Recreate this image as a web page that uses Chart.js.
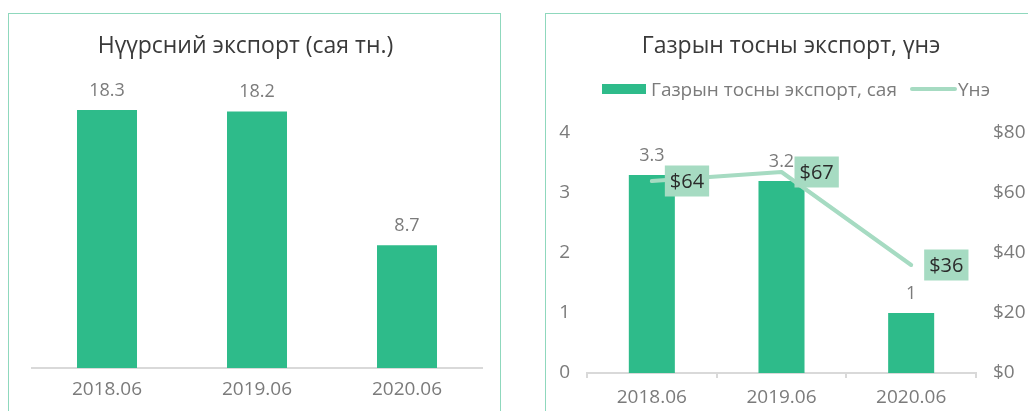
<!DOCTYPE html>
<html><head><meta charset="utf-8">
<script src="https://cdn.jsdelivr.net/npm/chart.js@4/dist/chart.umd.min.js"></script>
<style>
html,body{margin:0;padding:0;background:#fff;width:1028px;height:411px;overflow:hidden;position:relative}
.frame{position:absolute;border:1px solid #8fd8bd;box-sizing:border-box}
canvas{position:absolute}
</style></head><body>
<div class="frame" style="left:8px;top:13px;width:493px;height:430px"></div>
<div class="frame" style="left:545px;top:13px;width:520px;height:430px"></div>
<canvas id="c1" width="490" height="397" style="left:9px;top:14px;width:490px;height:397px"></canvas>
<canvas id="c2" width="482" height="397" style="left:546px;top:14px;width:482px;height:397px"></canvas>
<script>
// ---- data ----
const categories = ['2018.06', '2019.06', '2020.06'];
const coalTitle = 'Нүүрсний экспорт (сая тн.)';
const coalValues = [18.3, 18.2, 8.7];
const oilTitle = 'Газрын тосны экспорт, үнэ';
const oilLabel = 'Газрын тосны экспорт, сая';
const oilValues = [3.3, 3.2, 1];
const priceLabel = 'Үнэ';
const priceValues = [64, 67, 36];
const oilTicks = [0, 1, 2, 3, 4];
const priceTicks = [0, 20, 40, 60, 80];

// ---- styles ----
const FONT = "'Open Sans', 'Noto Sans', sans-serif";
const GREEN = '#2ebb8a';
const MINT = '#a6dbc2';
const GREY = '#7b7b7b';
const AXIS = '#d9d9d9';

Chart.defaults.font.family = FONT;
Chart.defaults.animation = false;

const annotPlugin = {
  id: 'annot',
  afterDraw(chart, args, o) {
    const ctx = chart.ctx;
    ctx.save();
    ctx.textBaseline = 'alphabetic';
    ctx.font = `23px ${FONT}`;
    ctx.fillStyle = '#3a3a3a';
    ctx.textAlign = 'center';
    ctx.fillText(o.title, o.titleX, o.titleY);
    if (o.legend) {
      const L = o.legend;
      ctx.font = `19px ${FONT}`;
      ctx.textAlign = 'left';
      ctx.fillStyle = GREEN;
      ctx.fillRect(L.boxX, L.boxY, L.boxW, L.boxH);
      ctx.fillStyle = GREY;
      ctx.fillText(chart.data.datasets[1].label, L.t1X, L.textY);
      ctx.strokeStyle = MINT; ctx.lineWidth = 4; ctx.lineCap = 'round';
      ctx.beginPath(); ctx.moveTo(L.lineX1, L.lineY); ctx.lineTo(L.lineX2, L.lineY); ctx.stroke();
      ctx.fillStyle = GREY;
      ctx.fillText(chart.data.datasets[0].label, L.t2X, L.textY);
    }
    chart.data.datasets.forEach((ds, i) => {
      const meta = chart.getDatasetMeta(i);
      if (meta.type !== 'bar') return;
      ctx.font = `18px ${FONT}`; ctx.fillStyle = GREY; ctx.textAlign = 'center'; ctx.textBaseline = 'alphabetic';
      meta.data.forEach((el, j) => ctx.fillText(String(ds.data[j]), el.x, el.y - 14));
    });
    chart.data.datasets.forEach((ds, i) => {
      const meta = chart.getDatasetMeta(i);
      if (meta.type !== 'line') return;
      ctx.font = `20px ${FONT}`;
      meta.data.forEach((el, j) => {
        const t = '$' + ds.data[j];
        const w = ctx.measureText(t).width + 10, h = 31;
        const bx = el.x + 13, by = el.y - h / 2;
        ctx.fillStyle = MINT; ctx.fillRect(bx, by, w, h);
        ctx.fillStyle = '#2b2b2b'; ctx.textAlign = 'left'; ctx.textBaseline = 'middle';
        ctx.fillText(t, bx + 5, el.y + 1);
      });
    });
    ctx.restore();
  }
};

new Chart(document.getElementById('c1'), {
  type: 'bar',
  data: {
    labels: categories,
    datasets: [{ label: coalTitle, data: coalValues, backgroundColor: GREEN, barPercentage: 0.4, categoryPercentage: 1 }]
  },
  options: {
    responsive: false, devicePixelRatio: 1,
    layout: { padding: { top: 72, left: 23, right: 17, bottom: 0 } },
    plugins: {
      legend: { display: false }, tooltip: { enabled: false },
      annot: { title: coalTitle, titleX: 236.5, titleY: 39 }
    },
    scales: {
      x: {
        grid: { display: false, drawTicks: false },
        border: { display: true, color: AXIS, width: 2 },
        ticks: { color: GREY, font: { size: 19 }, padding: 10 },
        afterFit(s) { s.height = 43; }
      },
      y: { display: false, min: 0, max: 20 }
    }
  },
  plugins: [annotPlugin]
});

new Chart(document.getElementById('c2'), {
  data: {
    labels: categories,
    datasets: [
      { type: 'line', label: priceLabel, data: priceValues, yAxisID: 'y1', borderColor: MINT, borderWidth: 4,
        pointRadius: 0, borderCapStyle: 'round', borderJoinStyle: 'round', order: 0 },
      { type: 'bar', label: oilLabel, data: oilValues, yAxisID: 'y', backgroundColor: GREEN,
        barPercentage: 0.355, categoryPercentage: 1, order: 1 }
    ]
  },
  options: {
    responsive: false, devicePixelRatio: 1,
    layout: { padding: { top: 119, left: 0, right: 0, bottom: 0 } },
    plugins: {
      legend: { display: false }, tooltip: { enabled: false },
      annot: {
        title: oilTitle, titleX: 245, titleY: 39,
        legend: { boxX: 56, boxY: 70, boxW: 44, boxH: 10, t1X: 105, textY: 82, lineX1: 366, lineX2: 409, lineY: 75, t2X: 412 }
      }
    },
    scales: {
      x: {
        grid: { display: true, drawOnChartArea: false, drawTicks: true, tickLength: 5, color: AXIS, lineWidth: 2 },
        border: { display: true, color: AXIS, width: 2 },
        ticks: { color: GREY, font: { size: 19 }, padding: 8 },
        afterFit(s) { s.height = 38; }
      },
      y: {
        position: 'left', min: 0, max: 4,
        afterBuildTicks(s) { s.ticks = oilTicks.map(v => ({ value: v })); },
        grid: { display: false, drawTicks: false }, border: { display: false },
        ticks: { color: GREY, font: { size: 19 }, padding: 17 },
        afterFit(s) { s.width = 41; }
      },
      y1: {
        position: 'right', min: 0, max: 80,
        afterBuildTicks(s) { s.ticks = priceTicks.map(v => ({ value: v })); },
        grid: { display: false, drawTicks: false }, border: { display: false },
        ticks: { color: GREY, font: { size: 19 }, padding: 17, callback: v => '$' + v },
        afterFit(s) { s.width = 52; }
      }
    }
  },
  plugins: [annotPlugin]
});
</script>
</body></html>
